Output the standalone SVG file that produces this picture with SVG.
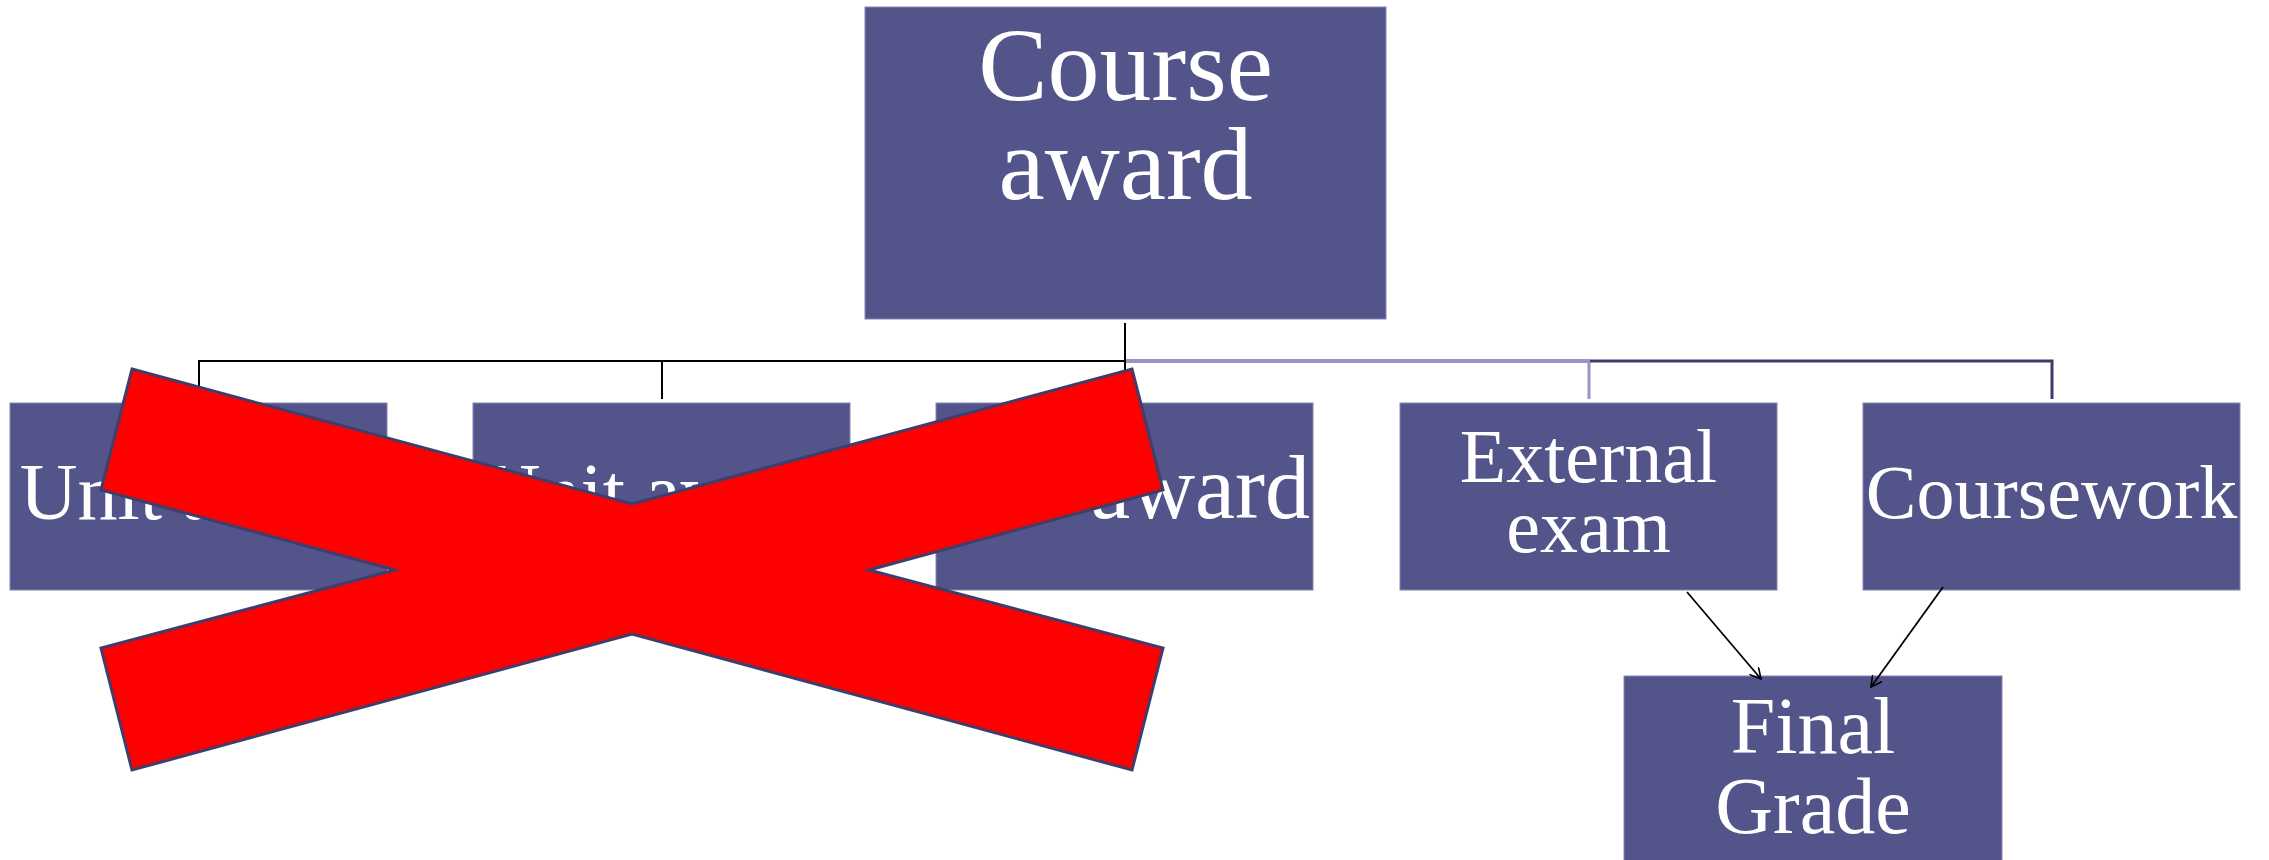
<svg xmlns="http://www.w3.org/2000/svg" width="2269" height="860" viewBox="0 0 2269 860">
  <defs>
    <style>
      .box { fill: #53548a; stroke: #8384b6; stroke-width: 1; }
      .t { font-family: "Liberation Serif", "Times New Roman", serif; fill: #ffffff; text-anchor: middle; }
      .blk { stroke: #000000; stroke-width: 2; fill: none; }
      .lav { stroke: #9695c3; fill: none; }
      .nav { stroke: #3c3c6c; stroke-width: 3; fill: none; }
      .arr { stroke: #000000; stroke-width: 1.8; fill: none; marker-end: url(#open); }
    </style>
    <marker id="open" viewBox="0 0 12 12" refX="11" refY="6" markerWidth="12" markerHeight="12" markerUnits="userSpaceOnUse" orient="auto">
      <path d="M0,0 L11,6 L0,12" fill="none" stroke="#000000" stroke-width="1.6"/>
    </marker>
  </defs>
  <rect width="2269" height="860" fill="#ffffff"/>

  <g id="connectors">
    <path class="blk" d="M1125,323 V361 M199,361 H1126 M199,360 V399 M662,360 V399 M1125,361 V399"/>
    <path class="lav" stroke-width="4" d="M1126,361 H1590"/>
    <path class="lav" stroke-width="3" d="M1589,361 V399"/>
    <path class="nav" d="M1590,361 H2052 V399"/>
  </g>

  <g id="course-award">
    <rect class="box" x="865" y="7" width="521" height="312"/>
    <text class="t" x="1125.5" y="100" font-size="104">Course</text>
    <text class="t" x="1125.5" y="199" font-size="104">award</text>
  </g>

  <g id="unit-award-1">
    <rect class="box" x="10" y="403" width="377" height="187"/>
    <text class="t" x="198.5" y="519" font-size="80">Unit award</text>
  </g>

  <g id="unit-award-2">
    <rect class="box" x="473" y="403" width="377" height="187"/>
    <text class="t" x="661.5" y="519" font-size="80">Unit award</text>
  </g>

  <g id="course-award-2">
    <rect class="box" x="936" y="403" width="377" height="187"/>
    <text class="t" x="1310" y="518" font-size="90" style="text-anchor:end">Course award</text>
  </g>

  <g id="external-exam">
    <rect class="box" x="1400" y="403" width="377" height="187"/>
    <text class="t" x="1588.5" y="482" font-size="76">External</text>
    <text class="t" x="1588.5" y="552" font-size="76">exam</text>
  </g>

  <g id="coursework">
    <rect class="box" x="1863" y="403" width="377" height="187"/>
    <text class="t" x="2051.5" y="518" font-size="76">Coursework</text>
  </g>

  <g id="final-grade">
    <rect class="box" x="1624" y="676" width="378" height="190"/>
    <text class="t" x="1813" y="753" font-size="80">Final</text>
    <text class="t" x="1813" y="833" font-size="80">Grade</text>
  </g>

  <g id="arrows">
    <line class="arr" x1="1687" y1="592" x2="1761" y2="679"/>
    <line class="arr" x1="1943" y1="587" x2="1871" y2="687"/>
  </g>

  <g id="cross">
    <polygon points="132,369 632,504 1132,369 1163,490 869,570 1163,648 1132,770 632,634 132,770 101,648 395,570 101,490" fill="#ff0000" stroke="#3f3d6b" stroke-width="3" stroke-linejoin="miter"/>
  </g>
</svg>
